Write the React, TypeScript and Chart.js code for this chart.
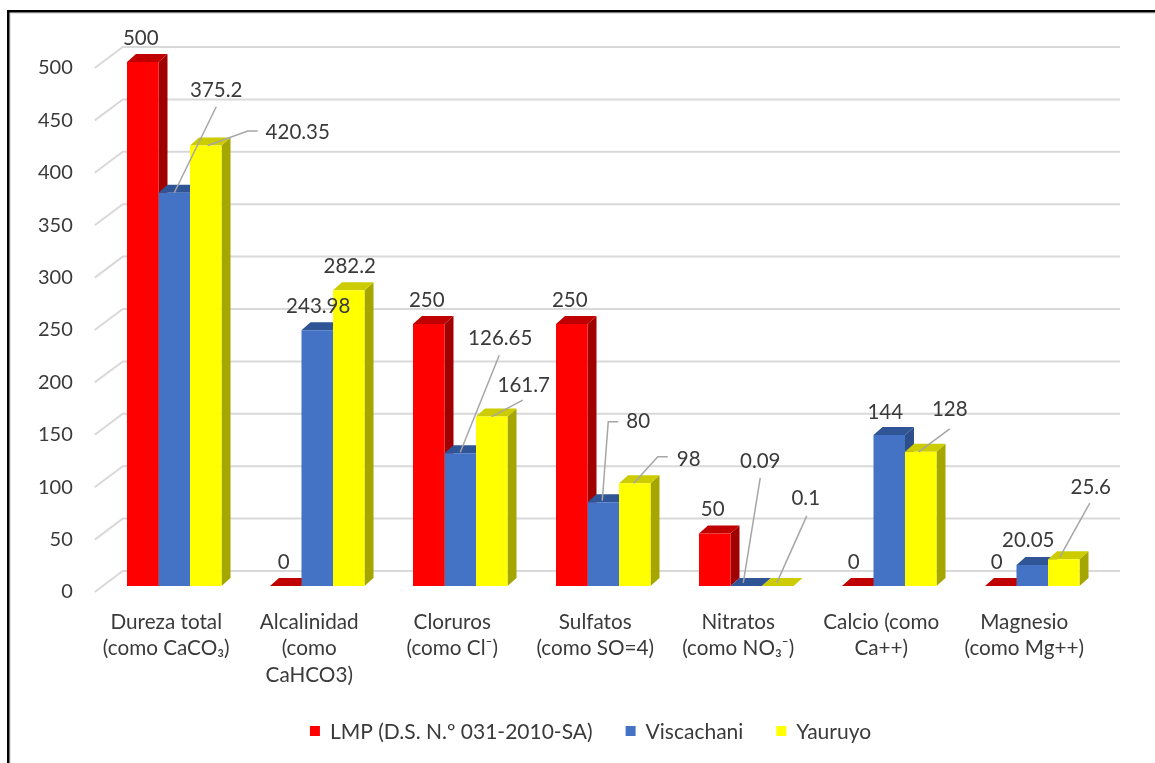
import React, { useEffect, useRef } from "react";
import { Chart, registerables } from "chart.js";

Chart.register(...registerables);

const categories: string[][] = [
  ["Dureza total", "(como CaCO₃)"],
  ["Alcalinidad", "(como", "CaHCO3)"],
  ["Cloruros", "(como Cl⁻)"],
  ["Sulfatos", "(como SO=4)"],
  ["Nitratos", "(como NO₃⁻)"],
  ["Calcio (como", "Ca++)"],
  ["Magnesio", "(como Mg++)"],
];
const seriesNames = ["LMP (D.S. N.º 031-2010-SA)", "Viscachani", "Yauruyo"];
const lmp = [500, 0, 250, 250, 50, 0, 0];
const viscachani = [375.2, 243.98, 126.65, 80, 0.09, 144, 20.05];
const yauruyo = [420.35, 282.2, 161.7, 98, 0.1, 128, 25.6];
const yMin = 0;
const yMax = 500;
const yStep = 50;

// styles
const FONT = "Lato";
const TEXT = "#3A3A3A";
const frontColors = ["#FF0000", "#4472C4", "#FFFF00"];
const topColors = ["#C00000", "#2F5597", "#CCCC00"];
const sideColors = ["#A00000", "#2E4F8C", "#A6A600"];
const DEPTH_X = 9;
const DEPTH_Y = 8;

// label placement (offset from the bar's front-top centre) and leader lines
type LabelPos = { o: [number, number]; l?: [number, number][] };
const labelPlacement: LabelPos[][] = [
  [
    { o: [-2, -24] }, { o: [-2, -24] }, { o: [-2, -24] }, { o: [-2, -24] },
    { o: [-2, -24] }, { o: [-4, -24] }, { o: [-4, -24] },
  ],
  [
    { o: [42, -102], l: [[0, 0], [42, -86]] },
    { o: [1, -24] },
    { o: [40, -115], l: [[0, -1], [39, -98]] },
    { o: [35, -80.5], l: [[-1, -1.5], [5, -80.5], [15, -80.5]] },
    { o: [14, -125], l: [[-3, -3], [14, -108]] },
    { o: [-4, -23] },
    { o: [-4, -25] },
  ],
  [
    { o: [92, -13.5], l: [[2, 0], [42, -14.5], [52, -14.5]] },
    { o: [1, -24] },
    { o: [32, -31.5], l: [[0, 0], [31, -16.5]] },
    { o: [54, -24], l: [[-1, 0], [23, -26.6], [33, -26.6]] },
    { o: [28, -88], l: [[-1, -3], [29, -70]] },
    { o: [29, -42], l: [[-2, 0], [29, -23]] },
    { o: [27, -72], l: [[-4, -2], [26, -56]] },
  ],
];

const threeD = {
  id: "threeD",
  beforeDatasetsDraw(chart: any) {
    const ctx = chart.ctx;
    const y = chart.scales.y;
    const area = chart.chartArea;
    ctx.save();
    // back wall gridlines + floor diagonals
    ctx.strokeStyle = "#D9D9D9";
    ctx.lineWidth = 2;
    for (let v = yMin; v <= yMax; v += yStep) {
      const py = y.getPixelForValue(v);
      ctx.beginPath();
      ctx.moveTo(area.left - 8, py + 6);
      ctx.lineTo(area.left + 20, py - 15);
      ctx.lineTo(1120, py - 15);
      ctx.stroke();
    }
    // side and top faces
    const n = chart.data.labels.length;
    for (let j = 0; j < n; j++) {
      chart.data.datasets.forEach((_: any, i: number) => {
        const bar = chart.getDatasetMeta(i).data[j];
        if (!bar) return;
        const { x, y: top, base, width } = bar.getProps(["x", "y", "base", "width"], true);
        const l = x - width / 2;
        const r = x + width / 2;
        ctx.fillStyle = sideColors[i];
        ctx.beginPath();
        ctx.moveTo(r, top);
        ctx.lineTo(r + DEPTH_X, top - DEPTH_Y);
        ctx.lineTo(r + DEPTH_X, base - DEPTH_Y);
        ctx.lineTo(r, base);
        ctx.closePath();
        ctx.fill();
        ctx.fillStyle = topColors[i];
        ctx.beginPath();
        ctx.moveTo(l, top);
        ctx.lineTo(l + DEPTH_X, top - DEPTH_Y);
        ctx.lineTo(r + DEPTH_X, top - DEPTH_Y);
        ctx.lineTo(r, top);
        ctx.closePath();
        ctx.fill();
      });
    }
    ctx.restore();
  },
  afterDatasetsDraw(chart: any) {
    const ctx = chart.ctx;
    ctx.save();
    ctx.font = `20.5px ${FONT}`;
    ctx.fillStyle = TEXT;
    ctx.textAlign = "center";
    ctx.textBaseline = "middle";
    chart.data.datasets.forEach((ds: any, i: number) => {
      chart.getDatasetMeta(i).data.forEach((bar: any, j: number) => {
        const p = labelPlacement[i][j];
        const bx = bar.x;
        const by = bar.y;
        if (p.l) {
          ctx.strokeStyle = "#A6A6A6";
          ctx.lineWidth = 1.5;
          ctx.beginPath();
          p.l.forEach((pt, k) => {
            if (k === 0) ctx.moveTo(bx + pt[0], by + pt[1]);
            else ctx.lineTo(bx + pt[0], by + pt[1]);
          });
          ctx.stroke();
        }
        ctx.fillText(String(ds.data[j]), bx + p.o[0], by + p.o[1]);
      });
    });
    ctx.restore();
  },
  afterDraw(chart: any) {
    const ctx = chart.ctx;
    ctx.save();
    // frame
    ctx.fillStyle = "#E4E4E4";
    ctx.fillRect(9, 12.5, 1155, 1.5);
    ctx.fillRect(9.5, 12, 1.5, 763);
    ctx.fillStyle = "#000";
    ctx.fillRect(7, 10, 1155, 2.5);
    ctx.fillRect(7, 10, 2.5, 763);
    // legend
    ctx.font = `21px ${FONT}`;
    ctx.textBaseline = "middle";
    ctx.textAlign = "left";
    const box = 10, gapText = 10, gapItem = 33;
    const widths = chart.data.datasets.map((d: any) => ctx.measureText(d.label).width);
    const total = widths.reduce((a: number, w: number) => a + box + gapText + w, 0) + gapItem * (widths.length - 1);
    let x = 590.5 - total / 2;
    const cy = 731;
    chart.data.datasets.forEach((d: any, i: number) => {
      ctx.fillStyle = frontColors[i];
      ctx.fillRect(x, cy - box / 2, box, box);
      x += box + gapText;
      ctx.fillStyle = TEXT;
      ctx.fillText(d.label, x, cy + 1);
      x += widths[i] + gapItem;
    });
    ctx.restore();
  },
};

export default function App() {
  const ref = useRef<HTMLCanvasElement>(null);
  useEffect(() => {
    if (!ref.current) return;
    const chart = new Chart(ref.current, {
      type: "bar",
      data: {
        labels: categories,
        datasets: [lmp, viscachani, yauruyo].map((d, i) => ({
          label: seriesNames[i],
          data: d,
          backgroundColor: frontColors[i],
          borderWidth: 0,
          categoryPercentage: 0.661,
          barPercentage: 1,
        })),
      },
      options: {
        animation: false,
        responsive: true,
        maintainAspectRatio: false,
        layout: { padding: { left: 0, top: 62, right: 51.25, bottom: 0 } },
        plugins: { legend: { display: false }, tooltip: { enabled: false } },
        scales: {
          x: {
            grid: { display: false, drawTicks: false },
            border: { display: false },
            ticks: {
              color: TEXT,
              font: { family: FONT, size: 20.7, lineHeight: 1.28 },
              padding: 23,
              labelOffset: -8,
              autoSkip: false,
              maxRotation: 0,
              minRotation: 0,
            },
            afterFit: (s: any) => { s.height = 177; },
          },
          y: {
            min: yMin,
            max: yMax,
            grid: { display: false, drawTicks: false },
            border: { display: false },
            ticks: {
              stepSize: yStep,
              color: TEXT,
              font: { family: FONT, size: 20 },
              padding: 30,
              labelOffset: 6,
            },
            afterFit: (s: any) => { s.width = 102.75; },
          },
        },
      },
      plugins: [threeD],
    });
    return () => chart.destroy();
  }, []);
  return (
    <div style={{ position: "fixed", left: 0, top: 0, width: 1155, height: 763, background: "#fff" }}>
      <canvas ref={ref} />
    </div>
  );
}
